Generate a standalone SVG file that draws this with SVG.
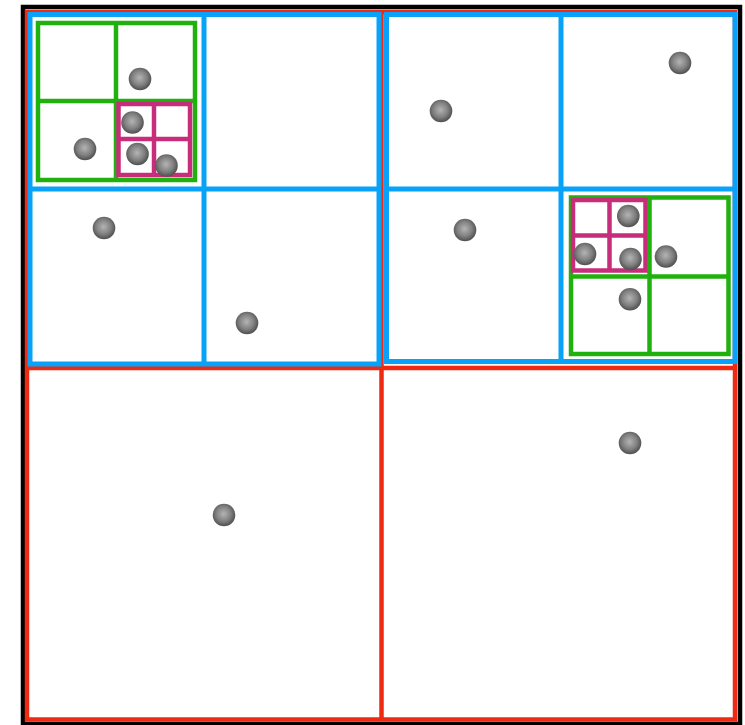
<svg xmlns="http://www.w3.org/2000/svg" width="745" height="725" viewBox="0 0 745 725">
<style>
.red{fill:none;stroke:#ee2a12;stroke-width:4.5}
.blue{fill:none;stroke:#08a2f8;stroke-width:5}
.green{fill:none;stroke:#20b10e;stroke-width:4.5}
.mag{fill:none;stroke:#c72d7b;stroke-width:4.5}
.ball{fill:url(#bg)}
</style>
<defs>
<radialGradient id="bg" cx="0.48" cy="0.45" r="0.55">
<stop offset="0" stop-color="#b4b4b4"/>
<stop offset="0.6" stop-color="#808080"/>
<stop offset="1" stop-color="#4e4e4e"/>
</radialGradient>
</defs>
<rect width="745" height="725" fill="#fff"/>
<g id="root">
<rect x="23" y="7" width="717" height="717" fill="none" stroke="#000" stroke-width="4.5"/>
</g>
<g id="level1">
<rect class="red" x="27" y="12" width="708" height="707.5"/>
<line class="red" x1="381.5" y1="12" x2="381.5" y2="719.5"/>
<line class="red" x1="27" y1="368" x2="735" y2="368"/>
</g>
<g id="level2-tl">
<rect class="blue" x="30" y="14.5" width="349" height="349.5"/>
<line class="blue" x1="204" y1="14.5" x2="204" y2="364"/>
<line class="blue" x1="30" y1="189" x2="379" y2="189"/>
</g>
<g id="level2-tr">
<rect class="blue" x="386.5" y="14.5" width="348.5" height="347"/>
<line class="blue" x1="561" y1="14.5" x2="561" y2="361.5"/>
<line class="blue" x1="386.5" y1="189" x2="735" y2="189"/>
</g>
<g id="level3-tl">
<rect class="green" x="38" y="23" width="157" height="157"/>
<line class="green" x1="116" y1="23" x2="116" y2="180"/>
<line class="green" x1="38" y1="101" x2="195" y2="101"/>
</g>
<g id="level3-tr">
<rect class="green" x="571" y="197.5" width="157.5" height="156.5"/>
<line class="green" x1="649.5" y1="197.5" x2="649.5" y2="354"/>
<line class="green" x1="571" y1="276.5" x2="728.5" y2="276.5"/>
</g>
<g id="level4-tl">
<rect class="mag" x="118.5" y="104" width="71.5" height="71"/>
<line class="mag" x1="154" y1="104" x2="154" y2="175"/>
<line class="mag" x1="118.5" y1="139" x2="190" y2="139"/>
</g>
<g id="level4-tr">
<rect class="mag" x="573" y="200" width="72.5" height="70.5"/>
<line class="mag" x1="609.5" y1="200" x2="609.5" y2="270.5"/>
<line class="mag" x1="573" y1="235.5" x2="645.5" y2="235.5"/>
</g>
<g id="points">
<circle class="ball" cx="140" cy="79" r="11.3"/>
<circle class="ball" cx="132.5" cy="122.5" r="11.3"/>
<circle class="ball" cx="137.5" cy="154" r="11.3"/>
<circle class="ball" cx="166.5" cy="165.5" r="11.3"/>
<circle class="ball" cx="85" cy="149" r="11.3"/>
<circle class="ball" cx="104" cy="228" r="11.3"/>
<circle class="ball" cx="247" cy="323" r="11.3"/>
<circle class="ball" cx="224" cy="515" r="11.3"/>
<circle class="ball" cx="441" cy="111" r="11.3"/>
<circle class="ball" cx="680" cy="63" r="11.3"/>
<circle class="ball" cx="465" cy="230" r="11.3"/>
<circle class="ball" cx="630" cy="443" r="11.3"/>
<circle class="ball" cx="628.3" cy="216" r="11.3"/>
<circle class="ball" cx="585" cy="254" r="11.3"/>
<circle class="ball" cx="630.5" cy="259" r="11.3"/>
<circle class="ball" cx="666" cy="256.5" r="11.3"/>
<circle class="ball" cx="630" cy="299.3" r="11.3"/>
</g>
</svg>
